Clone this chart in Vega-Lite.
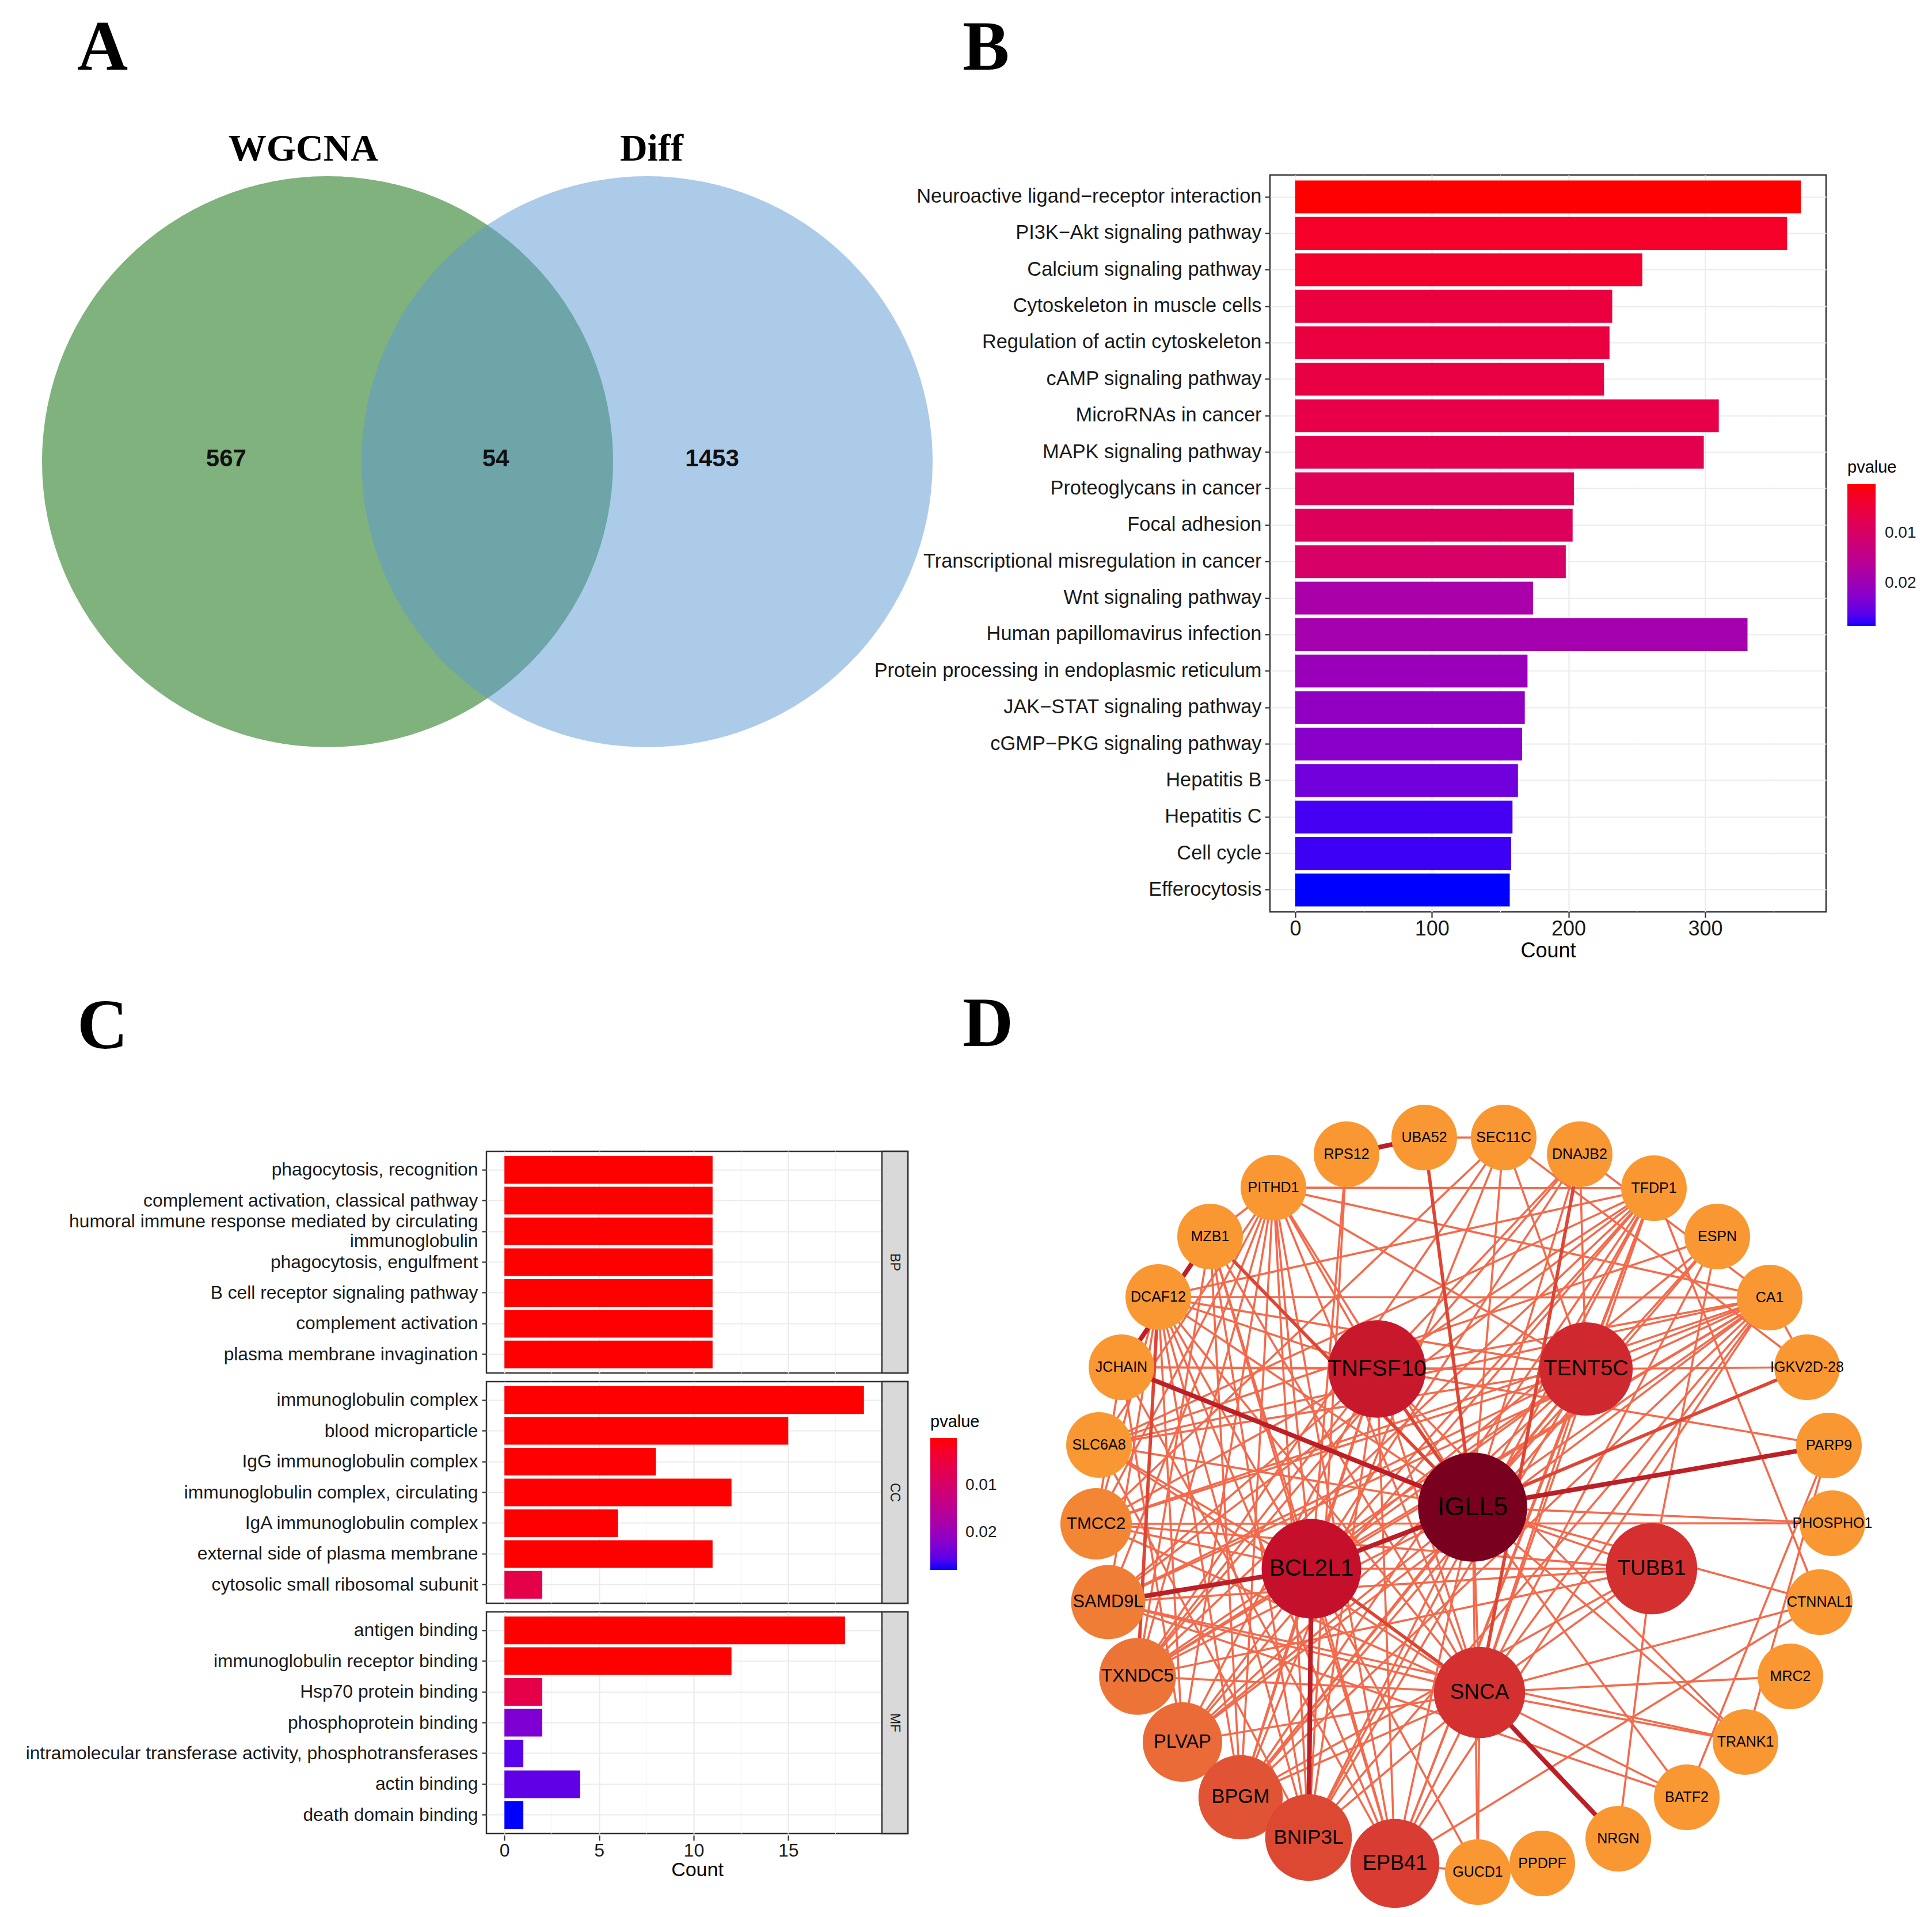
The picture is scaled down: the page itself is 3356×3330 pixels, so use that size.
{
  "$schema": "https://vega.github.io/schema/vega-lite/v6.json",
  "background": "white",
  "padding": {"left": 42, "top": 21, "right": 0, "bottom": 0},
  "autosize": {"type": "pad"},
  "bounds": "flush",
  "spacing": 1696,
  "resolve": {"scale": {"fill": "independent", "stroke": "independent", "size": "independent", "strokeWidth": "independent"}, "legend": {"fill": "independent"}},
  "config": {
    "font": "Liberation Sans",
    "view": {"stroke": "#333333", "strokeWidth": 2.5},
    "axis": {"domain": false, "labelFont": "Liberation Sans", "titleFont": "Liberation Sans", "labelColor": "#1a1a1a", "tickColor": "#333333", "tickWidth": 2.2, "gridColor": "#EBEBEB", "gridWidth": 2.2, "titleFontWeight": "normal", "titleColor": "#000000", "labelLimit": 3000},
    "legend": {"gradientStrokeWidth": 0, "titleFontWeight": "normal", "titleColor": "#000000", "labelColor": "#1a1a1a", "labelFont": "Liberation Sans", "titleFont": "Liberation Sans", "padding": 0},
    "title": {"font": "Liberation Serif", "fontSize": 122, "fontWeight": "bold", "anchor": "start", "frame": "group", "color": "#000000"}
  },
  "datasets": {
    "venn_sets": [
      {"set": "WGCNA", "cx": 0, "cy": 0, "lx": -0.085, "ly": 1.054},
      {"set": "Diff", "cx": 1.119, "cy": 0, "lx": 1.135, "ly": 1.054}
    ],
    "venn_regions": [
      {"region": "WGCNA only", "x": -0.355, "y": 0.01, "count": 567},
      {"region": "WGCNA and Diff", "x": 0.589, "y": 0.01, "count": 54},
      {"region": "Diff only", "x": 1.347, "y": 0.01, "count": 1453}
    ],
    "kegg": [
      {"pathway": "Neuroactive ligand−receptor interaction", "count": 370, "pvalue": 0.0002},
      {"pathway": "PI3K−Akt signaling pathway", "count": 360, "pvalue": 0.0030},
      {"pathway": "Calcium signaling pathway", "count": 254, "pvalue": 0.0033},
      {"pathway": "Cytoskeleton in muscle cells", "count": 232, "pvalue": 0.0053},
      {"pathway": "Regulation of actin cytoskeleton", "count": 230, "pvalue": 0.0056},
      {"pathway": "cAMP signaling pathway", "count": 226, "pvalue": 0.0059},
      {"pathway": "MicroRNAs in cancer", "count": 310, "pvalue": 0.0064},
      {"pathway": "MAPK signaling pathway", "count": 299, "pvalue": 0.0073},
      {"pathway": "Proteoglycans in cancer", "count": 204, "pvalue": 0.0082},
      {"pathway": "Focal adhesion", "count": 203, "pvalue": 0.0087},
      {"pathway": "Transcriptional misregulation in cancer", "count": 198, "pvalue": 0.0101},
      {"pathway": "Wnt signaling pathway", "count": 174, "pvalue": 0.0184},
      {"pathway": "Human papillomavirus infection", "count": 331, "pvalue": 0.0189},
      {"pathway": "Protein processing in endoplasmic reticulum", "count": 170, "pvalue": 0.0204},
      {"pathway": "JAK−STAT signaling pathway", "count": 168, "pvalue": 0.0215},
      {"pathway": "cGMP−PKG signaling pathway", "count": 166, "pvalue": 0.0224},
      {"pathway": "Hepatitis B", "count": 163, "pvalue": 0.0246},
      {"pathway": "Hepatitis C", "count": 159, "pvalue": 0.0272},
      {"pathway": "Cell cycle", "count": 158, "pvalue": 0.0275},
      {"pathway": "Efferocytosis", "count": 157, "pvalue": 0.0286}
    ],
    "go": [
      {"ont": "BP", "term": "phagocytosis, recognition", "count": 11, "pvalue": 1e-9},
      {"ont": "BP", "term": "complement activation, classical pathway", "count": 11, "pvalue": 1.2e-9},
      {"ont": "BP", "term": "humoral immune response mediated by circulating immunoglobulin", "count": 11, "pvalue": 1.5e-9},
      {"ont": "BP", "term": "phagocytosis, engulfment", "count": 11, "pvalue": 2e-9},
      {"ont": "BP", "term": "B cell receptor signaling pathway", "count": 11, "pvalue": 3e-9},
      {"ont": "BP", "term": "complement activation", "count": 11, "pvalue": 5e-9},
      {"ont": "BP", "term": "plasma membrane invagination", "count": 11, "pvalue": 8e-9},
      {"ont": "CC", "term": "immunoglobulin complex", "count": 19, "pvalue": 1e-15},
      {"ont": "CC", "term": "blood microparticle", "count": 15, "pvalue": 1e-10},
      {"ont": "CC", "term": "IgG immunoglobulin complex", "count": 8, "pvalue": 1e-8},
      {"ont": "CC", "term": "immunoglobulin complex, circulating", "count": 12, "pvalue": 1e-9},
      {"ont": "CC", "term": "IgA immunoglobulin complex", "count": 6, "pvalue": 1e-7},
      {"ont": "CC", "term": "external side of plasma membrane", "count": 11, "pvalue": 1e-5},
      {"ont": "CC", "term": "cytosolic small ribosomal subunit", "count": 2, "pvalue": 0.0064},
      {"ont": "MF", "term": "antigen binding", "count": 18, "pvalue": 1e-14},
      {"ont": "MF", "term": "immunoglobulin receptor binding", "count": 12, "pvalue": 1e-10},
      {"ont": "MF", "term": "Hsp70 protein binding", "count": 2, "pvalue": 0.0062},
      {"ont": "MF", "term": "phosphoprotein binding", "count": 2, "pvalue": 0.0228},
      {"ont": "MF", "term": "intramolecular transferase activity, phosphotransferases", "count": 1, "pvalue": 0.0256},
      {"ont": "MF", "term": "actin binding", "count": 4, "pvalue": 0.0251},
      {"ont": "MF", "term": "death domain binding", "count": 1, "pvalue": 0.0279}
    ],
    "nodes": [
      {"id": "UBA52", "x": -69, "y": 636, "score": 3},
      {"id": "SEC11C", "x": 69, "y": 636, "score": 6},
      {"id": "RPS12", "x": -204, "y": 607, "score": 3},
      {"id": "DNAJB2", "x": 201, "y": 607, "score": 6},
      {"id": "PITHD1", "x": -331, "y": 549, "score": 8},
      {"id": "TFDP1", "x": 330, "y": 548, "score": 8},
      {"id": "MZB1", "x": -441, "y": 464, "score": 6},
      {"id": "ESPN", "x": 440, "y": 464, "score": 5},
      {"id": "DCAF12", "x": -531, "y": 359, "score": 8},
      {"id": "CA1", "x": 531, "y": 358, "score": 8},
      {"id": "JCHAIN", "x": -595, "y": 237, "score": 6},
      {"id": "IGKV2D-28", "x": 596, "y": 237, "score": 4},
      {"id": "SLC6A8", "x": -634, "y": 102, "score": 6},
      {"id": "PARP9", "x": 634, "y": 101, "score": 4},
      {"id": "TMCC2", "x": -639, "y": -35, "score": 12},
      {"id": "PHOSPHO1", "x": 640, "y": -34, "score": 2},
      {"id": "SAMD9L", "x": -618, "y": -171, "score": 13},
      {"id": "CTNNAL1", "x": 618, "y": -171, "score": 3},
      {"id": "TXNDC5", "x": -567, "y": -300, "score": 14},
      {"id": "MRC2", "x": 567, "y": -300, "score": 1},
      {"id": "PLVAP", "x": -489, "y": -414, "score": 15},
      {"id": "TRANK1", "x": 489, "y": -414, "score": 4},
      {"id": "BPGM", "x": -388, "y": -510, "score": 17},
      {"id": "BATF2", "x": 387, "y": -510, "score": 4},
      {"id": "BNIP3L", "x": -270, "y": -580, "score": 18},
      {"id": "NRGN", "x": 268, "y": -582, "score": 2},
      {"id": "EPB41", "x": -120, "y": -625, "score": 19},
      {"id": "GUCD1", "x": 24, "y": -640, "score": 4},
      {"id": "PPDPF", "x": 136, "y": -625, "score": 1},
      {"id": "TNFSF10", "x": -151, "y": 234, "score": 23},
      {"id": "TENT5C", "x": 212, "y": 234, "score": 21},
      {"id": "BCL2L1", "x": -265, "y": -113, "score": 24},
      {"id": "TUBB1", "x": 326, "y": -113, "score": 20},
      {"id": "SNCA", "x": 27, "y": -328, "score": 20},
      {"id": "IGLL5", "x": 15, "y": -6, "score": 29}
    ],
    "edges": [
      {"source": "IGLL5", "target": "TFDP1", "w": 1}, {"source": "IGLL5", "target": "CA1", "w": 1}, {"source": "IGLL5", "target": "DNAJB2", "w": 1}, {"source": "IGLL5", "target": "PITHD1", "w": 1}, {"source": "IGLL5", "target": "SEC11C", "w": 1}, {"source": "IGLL5", "target": "TENT5C", "w": 1}, {"source": "IGLL5", "target": "TUBB1", "w": 1}, {"source": "IGLL5", "target": "SNCA", "w": 1}, {"source": "IGLL5", "target": "PHOSPHO1", "w": 1}, {"source": "IGLL5", "target": "TRANK1", "w": 1}, {"source": "IGLL5", "target": "BATF2", "w": 1}, {"source": "IGLL5", "target": "EPB41", "w": 1}, {"source": "IGLL5", "target": "BNIP3L", "w": 1}, {"source": "IGLL5", "target": "BPGM", "w": 1}, {"source": "IGLL5", "target": "PLVAP", "w": 1}, {"source": "IGLL5", "target": "TXNDC5", "w": 1}, {"source": "IGLL5", "target": "SLC6A8", "w": 1}, {"source": "IGLL5", "target": "DCAF12", "w": 1}, {"source": "IGLL5", "target": "GUCD1", "w": 1}, {"source": "IGLL5", "target": "CTNNAL1", "w": 1}, {"source": "IGLL5", "target": "ESPN", "w": 1},
      {"source": "TNFSF10", "target": "JCHAIN", "w": 1}, {"source": "TNFSF10", "target": "TENT5C", "w": 1}, {"source": "TNFSF10", "target": "PITHD1", "w": 1}, {"source": "TNFSF10", "target": "DCAF12", "w": 1}, {"source": "TNFSF10", "target": "TFDP1", "w": 1}, {"source": "TNFSF10", "target": "CA1", "w": 1}, {"source": "TNFSF10", "target": "BCL2L1", "w": 1}, {"source": "TNFSF10", "target": "SNCA", "w": 1}, {"source": "TNFSF10", "target": "BPGM", "w": 1}, {"source": "TNFSF10", "target": "BNIP3L", "w": 1}, {"source": "TNFSF10", "target": "EPB41", "w": 1}, {"source": "TNFSF10", "target": "TXNDC5", "w": 1}, {"source": "TNFSF10", "target": "PLVAP", "w": 1}, {"source": "TNFSF10", "target": "SAMD9L", "w": 1}, {"source": "TNFSF10", "target": "PARP9", "w": 1}, {"source": "TNFSF10", "target": "TMCC2", "w": 1}, {"source": "TNFSF10", "target": "DNAJB2", "w": 1}, {"source": "TNFSF10", "target": "TRANK1", "w": 1},
      {"source": "TENT5C", "target": "IGKV2D-28", "w": 1}, {"source": "TENT5C", "target": "CA1", "w": 1}, {"source": "TENT5C", "target": "TFDP1", "w": 1}, {"source": "TENT5C", "target": "DNAJB2", "w": 1}, {"source": "TENT5C", "target": "SEC11C", "w": 1}, {"source": "TENT5C", "target": "PITHD1", "w": 1}, {"source": "TENT5C", "target": "BCL2L1", "w": 1}, {"source": "TENT5C", "target": "SNCA", "w": 1}, {"source": "TENT5C", "target": "BPGM", "w": 1}, {"source": "TENT5C", "target": "BNIP3L", "w": 1}, {"source": "TENT5C", "target": "EPB41", "w": 1}, {"source": "TENT5C", "target": "TXNDC5", "w": 1}, {"source": "TENT5C", "target": "SAMD9L", "w": 1}, {"source": "TENT5C", "target": "TMCC2", "w": 1}, {"source": "TENT5C", "target": "SLC6A8", "w": 1}, {"source": "TENT5C", "target": "PLVAP", "w": 1}, {"source": "TENT5C", "target": "DCAF12", "w": 1}, {"source": "TENT5C", "target": "JCHAIN", "w": 1},
      {"source": "BCL2L1", "target": "PITHD1", "w": 1}, {"source": "BCL2L1", "target": "MZB1", "w": 1}, {"source": "BCL2L1", "target": "DCAF12", "w": 1}, {"source": "BCL2L1", "target": "SLC6A8", "w": 1}, {"source": "BCL2L1", "target": "TMCC2", "w": 1}, {"source": "BCL2L1", "target": "TXNDC5", "w": 1}, {"source": "BCL2L1", "target": "PLVAP", "w": 1}, {"source": "BCL2L1", "target": "BPGM", "w": 1}, {"source": "BCL2L1", "target": "EPB41", "w": 1}, {"source": "BCL2L1", "target": "GUCD1", "w": 1}, {"source": "BCL2L1", "target": "TFDP1", "w": 1}, {"source": "BCL2L1", "target": "CA1", "w": 1}, {"source": "BCL2L1", "target": "ESPN", "w": 1}, {"source": "BCL2L1", "target": "TUBB1", "w": 1}, {"source": "BCL2L1", "target": "DNAJB2", "w": 1}, {"source": "BCL2L1", "target": "RPS12", "w": 1},
      {"source": "SNCA", "target": "CTNNAL1", "w": 1}, {"source": "SNCA", "target": "MRC2", "w": 1}, {"source": "SNCA", "target": "TRANK1", "w": 1}, {"source": "SNCA", "target": "BATF2", "w": 1}, {"source": "SNCA", "target": "GUCD1", "w": 1}, {"source": "SNCA", "target": "EPB41", "w": 1}, {"source": "SNCA", "target": "BNIP3L", "w": 1}, {"source": "SNCA", "target": "BPGM", "w": 1}, {"source": "SNCA", "target": "PLVAP", "w": 1}, {"source": "SNCA", "target": "TXNDC5", "w": 1}, {"source": "SNCA", "target": "SAMD9L", "w": 1}, {"source": "SNCA", "target": "TMCC2", "w": 1}, {"source": "SNCA", "target": "SLC6A8", "w": 1}, {"source": "SNCA", "target": "TUBB1", "w": 1}, {"source": "SNCA", "target": "CA1", "w": 1}, {"source": "SNCA", "target": "TFDP1", "w": 1}, {"source": "SNCA", "target": "ESPN", "w": 1}, {"source": "SNCA", "target": "PITHD1", "w": 1}, {"source": "SNCA", "target": "DCAF12", "w": 1}, {"source": "SNCA", "target": "MZB1", "w": 1},
      {"source": "TUBB1", "target": "NRGN", "w": 1}, {"source": "TUBB1", "target": "SAMD9L", "w": 1}, {"source": "TUBB1", "target": "TMCC2", "w": 1}, {"source": "TUBB1", "target": "ESPN", "w": 1}, {"source": "TUBB1", "target": "BPGM", "w": 1}, {"source": "TUBB1", "target": "TXNDC5", "w": 1},
      {"source": "EPB41", "target": "GUCD1", "w": 1}, {"source": "EPB41", "target": "PITHD1", "w": 1}, {"source": "EPB41", "target": "MZB1", "w": 1}, {"source": "EPB41", "target": "DCAF12", "w": 1}, {"source": "EPB41", "target": "CA1", "w": 1}, {"source": "EPB41", "target": "CTNNAL1", "w": 1}, {"source": "EPB41", "target": "TFDP1", "w": 1}, {"source": "EPB41", "target": "JCHAIN", "w": 1},
      {"source": "BNIP3L", "target": "PITHD1", "w": 1}, {"source": "BNIP3L", "target": "DCAF12", "w": 1}, {"source": "BNIP3L", "target": "CA1", "w": 1}, {"source": "BNIP3L", "target": "TFDP1", "w": 1}, {"source": "BNIP3L", "target": "SLC6A8", "w": 1}, {"source": "BNIP3L", "target": "MZB1", "w": 1}, {"source": "BNIP3L", "target": "RPS12", "w": 1},
      {"source": "BPGM", "target": "PITHD1", "w": 1}, {"source": "BPGM", "target": "MZB1", "w": 1}, {"source": "BPGM", "target": "DCAF12", "w": 1}, {"source": "BPGM", "target": "CA1", "w": 1}, {"source": "BPGM", "target": "TFDP1", "w": 1}, {"source": "BPGM", "target": "ESPN", "w": 1}, {"source": "BPGM", "target": "SEC11C", "w": 1},
      {"source": "PLVAP", "target": "DCAF12", "w": 1}, {"source": "PLVAP", "target": "JCHAIN", "w": 1}, {"source": "PLVAP", "target": "PITHD1", "w": 1}, {"source": "PLVAP", "target": "CA1", "w": 1}, {"source": "PLVAP", "target": "TFDP1", "w": 1},
      {"source": "TXNDC5", "target": "PITHD1", "w": 1}, {"source": "TXNDC5", "target": "MZB1", "w": 1}, {"source": "TXNDC5", "target": "TFDP1", "w": 1}, {"source": "TXNDC5", "target": "CA1", "w": 1}, {"source": "TXNDC5", "target": "SEC11C", "w": 1},
      {"source": "SAMD9L", "target": "DCAF12", "w": 1}, {"source": "SAMD9L", "target": "PITHD1", "w": 1}, {"source": "SAMD9L", "target": "CA1", "w": 1}, {"source": "SAMD9L", "target": "TFDP1", "w": 1}, {"source": "SAMD9L", "target": "BATF2", "w": 1}, {"source": "SAMD9L", "target": "TRANK1", "w": 1},
      {"source": "TMCC2", "target": "PHOSPHO1", "w": 1}, {"source": "TMCC2", "target": "DCAF12", "w": 1}, {"source": "TMCC2", "target": "PITHD1", "w": 1}, {"source": "TMCC2", "target": "CA1", "w": 1}, {"source": "TMCC2", "target": "SEC11C", "w": 1}, {"source": "TMCC2", "target": "JCHAIN", "w": 1},
      {"source": "SLC6A8", "target": "CA1", "w": 1}, {"source": "SLC6A8", "target": "PITHD1", "w": 1}, {"source": "SLC6A8", "target": "TFDP1", "w": 1},
      {"source": "PITHD1", "target": "TFDP1", "w": 1}, {"source": "DCAF12", "target": "CA1", "w": 1}, {"source": "SEC11C", "target": "IGKV2D-28", "w": 1}, {"source": "SEC11C", "target": "UBA52", "w": 1}, {"source": "PARP9", "target": "BATF2", "w": 1}, {"source": "PARP9", "target": "TRANK1", "w": 1}, {"source": "TFDP1", "target": "CTNNAL1", "w": 1}, {"source": "PITHD1", "target": "CA1", "w": 1}, {"source": "DCAF12", "target": "TFDP1", "w": 1}, {"source": "GUCD1", "target": "PPDPF", "w": 1}, {"source": "CA1", "target": "IGKV2D-28", "w": 1}, {"source": "MZB1", "target": "PITHD1", "w": 1}, {"source": "DNAJB2", "target": "TXNDC5", "w": 1}, {"source": "ESPN", "target": "SLC6A8", "w": 1}, {"source": "DNAJB2", "target": "CA1", "w": 1},
      {"source": "MZB1", "target": "IGLL5", "w": 2}, {"source": "IGLL5", "target": "IGKV2D-28", "w": 2}, {"source": "BCL2L1", "target": "SNCA", "w": 2}, {"source": "UBA52", "target": "IGLL5", "w": 2}, {"source": "DNAJB2", "target": "SNCA", "w": 2}, {"source": "TNFSF10", "target": "IGLL5", "w": 2}, {"source": "DCAF12", "target": "TXNDC5", "w": 2},
      {"source": "RPS12", "target": "UBA52", "w": 3}, {"source": "MZB1", "target": "JCHAIN", "w": 3}, {"source": "JCHAIN", "target": "IGLL5", "w": 3}, {"source": "IGLL5", "target": "PARP9", "w": 3}, {"source": "SAMD9L", "target": "BCL2L1", "w": 3}, {"source": "BCL2L1", "target": "IGLL5", "w": 3}, {"source": "BCL2L1", "target": "BNIP3L", "w": 3}, {"source": "SNCA", "target": "NRGN", "w": 3}
    ]
  },
  "vconcat": [
    {
      "bounds": "flush",
      "spacing": 561,
      "resolve": {"scale": {"fill": "independent"}, "legend": {"fill": "independent"}},
      "hconcat": [
        {
          "width": 800,
          "height": 1280,
          "view": {"stroke": null},
          "title": {"text": "A", "dx": -711, "offset": 79},
          "layer": [
            {
              "data": {"name": "venn_sets"},
              "mark": {"type": "point", "shape": "circle", "filled": true, "opacity": 1, "size": 984064, "strokeWidth": 0},
              "encoding": {
                "x": {"field": "cx", "type": "quantitative", "scale": {"domain": [0.5565, 2.1694], "nice": false, "zero": false}, "axis": null},
                "y": {"field": "cy", "type": "quantitative", "scale": {"domain": [-1.5766, 1.004], "nice": false, "zero": false}, "axis": null},
                "fill": {"field": "set", "type": "nominal", "scale": {"domain": ["WGCNA", "Diff"], "range": ["#80B27D", "rgba(90,153,212,0.51)"]}, "legend": null}
              }
            },
            {
              "data": {"name": "venn_sets"},
              "mark": {"type": "text", "font": "Liberation Serif", "fontWeight": "bold", "fontSize": 66, "baseline": "alphabetic", "align": "center", "color": "#000000"},
              "encoding": {
                "x": {"field": "lx", "type": "quantitative", "scale": {"domain": [0.5565, 2.1694], "nice": false, "zero": false}, "axis": null},
                "y": {"field": "ly", "type": "quantitative", "scale": {"domain": [-1.5766, 1.004], "nice": false, "zero": false}, "axis": null},
                "text": {"field": "set"}
              }
            },
            {
              "data": {"name": "venn_regions"},
              "mark": {"type": "text", "font": "Liberation Sans", "fontWeight": "bold", "fontSize": 42, "baseline": "middle", "align": "center", "color": "#111111"},
              "encoding": {
                "x": {"field": "x", "type": "quantitative", "scale": {"domain": [0.5565, 2.1694], "nice": false, "zero": false}, "axis": null},
                "y": {"field": "y", "type": "quantitative", "scale": {"domain": [-1.5766, 1.004], "nice": false, "zero": false}, "axis": null},
                "text": {"field": "count"}
              }
            }
          ]
        },
        {
          "width": 966,
          "height": 1280,
          "title": {"text": "B", "dx": -534, "offset": 157},
          "data": {"name": "kegg"},
          "mark": {"type": "bar"},
          "encoding": {
            "y": {"field": "pathway", "type": "nominal", "sort": null, "title": null, "scale": {"paddingInner": 0.1, "paddingOuter": 0.15}, "axis": {"labelFontSize": 34.4, "tickSize": 9, "labelPadding": 6, "bandPosition": 0.5, "grid": true}},
            "x": {"field": "count", "type": "quantitative", "title": "Count", "scale": {"domain": [-18.5, 388.5], "nice": false, "zero": false},
              "axis": {"values": [0, 50, 100, 150, 200, 250, 300, 350], "labelExpr": "datum.value % 100 === 0 ? datum.label : ''",
                "tickOpacity": {"condition": {"test": "datum.value % 100 === 0", "value": 1}, "value": 0},
                "gridWidth": {"condition": {"test": "datum.value % 100 === 0", "value": 2.2}, "value": 1.1},
                "gridColor": {"condition": {"test": "datum.value % 100 === 0", "value": "#EBEBEB"}, "value": "#F3F3F3"},
                "labelFontSize": 36, "tickSize": 10, "labelPadding": 2, "titleFontSize": 36, "titlePadding": 3}},
            "fill": {"field": "pvalue", "type": "quantitative", "scale": {"domain": [0.0286, 0.0002], "range": ["#0000ff", "#ff0000"], "interpolate": "lab"},
              "legend": {"title": "pvalue", "orient": "none", "direction": "vertical", "legendX": 1003, "legendY": 494, "values": [0.01, 0.02], "format": ".2f", "gradientLength": 246, "gradientThickness": 49, "labelFontSize": 28, "titleFontSize": 29, "labelOffset": 16, "titlePadding": 14}}
          }
        }
      ]
    },
    {
      "bounds": "flush",
      "spacing": 915,
      "resolve": {"scale": {"fill": "independent", "size": "independent"}, "legend": {"fill": "independent"}},
      "hconcat": [
        {
          "title": {"text": "C", "dx": -711, "offset": 151},
          "data": {"name": "go"},
          "facet": {"row": {"field": "ont", "type": "nominal", "header": null}},
          "spacing": 9,
          "resolve": {"scale": {"y": "independent"}},
          "spec": {
            "width": 732,
            "height": 385,
            "layer": [
              {
                "mark": {"type": "bar"},
                "encoding": {
                  "y": {"field": "term", "type": "nominal", "sort": null, "title": null, "scale": {"paddingInner": 0.1, "paddingOuter": 0.15},
                    "axis": {"labelFontSize": 31.8, "tickSize": 8, "labelPadding": 7, "bandPosition": 0.5, "grid": true, "labelLineHeight": 34,
                      "labelOffset": {"condition": {"test": "datum.value == 'humoral immune response mediated by circulating immunoglobulin'", "value": -17}, "value": 0},
                      "labelExpr": "datum.value == 'humoral immune response mediated by circulating immunoglobulin' ? ['humoral immune response mediated by circulating', 'immunoglobulin'] : datum.label"}},
                  "x": {"field": "count", "type": "quantitative", "title": "Count", "scale": {"domain": [-0.95, 21.32], "nice": false, "zero": false},
                    "axis": {"values": [0, 2.5, 5, 7.5, 10, 12.5, 15, 17.5], "labelExpr": "datum.value % 5 === 0 ? datum.label : ''",
                      "tickOpacity": {"condition": {"test": "datum.value % 5 === 0", "value": 1}, "value": 0},
                      "gridWidth": {"condition": {"test": "datum.value % 5 === 0", "value": 2.2}, "value": 1.1},
                      "gridColor": {"condition": {"test": "datum.value % 5 === 0", "value": "#EBEBEB"}, "value": "#F3F3F3"},
                      "labelFontSize": 32, "tickSize": 9, "labelPadding": 2, "titleFontSize": 34, "titlePadding": 1}},
                  "fill": {"field": "pvalue", "type": "quantitative", "scale": {"domain": [0.0279, 0], "range": ["#0000ff", "#ff0000"], "interpolate": "lab"},
                    "legend": {"title": "pvalue", "orient": "none", "direction": "vertical", "legendX": 771, "legendY": 456, "values": [0.01, 0.02], "format": ".2f", "gradientLength": 229, "gradientThickness": 46, "labelFontSize": 28, "titleFontSize": 29, "labelOffset": 15, "titlePadding": 13}}
                }
              },
              {
                "transform": [{"aggregate": [{"op": "count", "as": "n"}], "groupby": ["ont"]}],
                "mark": {"type": "rect", "fill": "#D9D9D9", "stroke": "#333333", "strokeWidth": 2.5},
                "encoding": {
                  "x": {"datum": 19.95, "type": "quantitative"},
                  "x2": {"datum": 21.32}
                }
              },
              {
                "transform": [{"aggregate": [{"op": "count", "as": "n"}], "groupby": ["ont"]}],
                "mark": {"type": "text", "angle": 90, "fontSize": 23, "color": "#1a1a1a", "align": "center", "baseline": "middle"},
                "encoding": {
                  "x": {"datum": 20.635, "type": "quantitative"},
                  "text": {"field": "ont"}
                }
              }
            ]
          }
        },
        {
          "width": 1560,
          "height": 1320,
          "view": {"stroke": null},
          "title": {"text": "D", "dx": -88, "offset": 76},
          "resolve": {"scale": {"size": "independent"}},
          "layer": [
            {
              "data": {"name": "edges"},
              "transform": [
                {"lookup": "source", "from": {"data": {"name": "nodes"}, "key": "id", "fields": ["x", "y"]}, "as": ["sx", "sy"]},
                {"lookup": "target", "from": {"data": {"name": "nodes"}, "key": "id", "fields": ["x", "y"]}, "as": ["tx", "ty"]}
              ],
              "mark": {"type": "rule"},
              "encoding": {
                "x": {"field": "sx", "type": "quantitative", "scale": {"domain": [-783, 777], "nice": false, "zero": false}, "axis": null},
                "y": {"field": "sy", "type": "quantitative", "scale": {"domain": [-708, 612], "nice": false, "zero": false}, "axis": null},
                "x2": {"field": "tx"},
                "y2": {"field": "ty"},
                "stroke": {"field": "w", "type": "ordinal", "scale": {"domain": [1, 2, 3], "range": ["#F36A4C", "#DD4634", "#BC1F26"]}, "legend": null},
                "strokeWidth": {"field": "w", "type": "quantitative", "scale": {"domain": [1, 3], "range": [3.6, 8]}, "legend": null}
              }
            },
            {
              "data": {"name": "nodes"},
              "mark": {"type": "point", "shape": "circle", "filled": true, "opacity": 1, "strokeWidth": 0},
              "encoding": {
                "x": {"field": "x", "type": "quantitative", "scale": {"domain": [-783, 777], "nice": false, "zero": false}, "axis": null},
                "y": {"field": "y", "type": "quantitative", "scale": {"domain": [-708, 612], "nice": false, "zero": false}, "axis": null},
                "fill": {"field": "score", "type": "quantitative", "scale": {"domain": [10, 15, 20, 24, 29], "range": ["#F99832", "#EA6B38", "#D43030", "#C4102A", "#7A0020"], "interpolate": "rgb", "clamp": true}, "legend": null},
                "size": {"field": "score", "type": "quantitative", "scale": {"domain": [10, 29], "range": [12996, 35967], "clamp": true, "zero": false}, "legend": null}
              }
            },
            {
              "data": {"name": "nodes"},
              "mark": {"type": "text", "font": "Liberation Sans", "color": "#000000", "align": "center", "baseline": "middle"},
              "encoding": {
                "x": {"field": "x", "type": "quantitative", "scale": {"domain": [-783, 777], "nice": false, "zero": false}, "axis": null},
                "y": {"field": "y", "type": "quantitative", "scale": {"domain": [-708, 612], "nice": false, "zero": false}, "axis": null},
                "text": {"field": "id"},
                "size": {"field": "score", "type": "quantitative", "scale": {"domain": [9, 12, 29], "range": [25, 29.8, 45], "clamp": true, "zero": false}, "legend": null}
              }
            }
          ]
        }
      ]
    }
  ]
}
